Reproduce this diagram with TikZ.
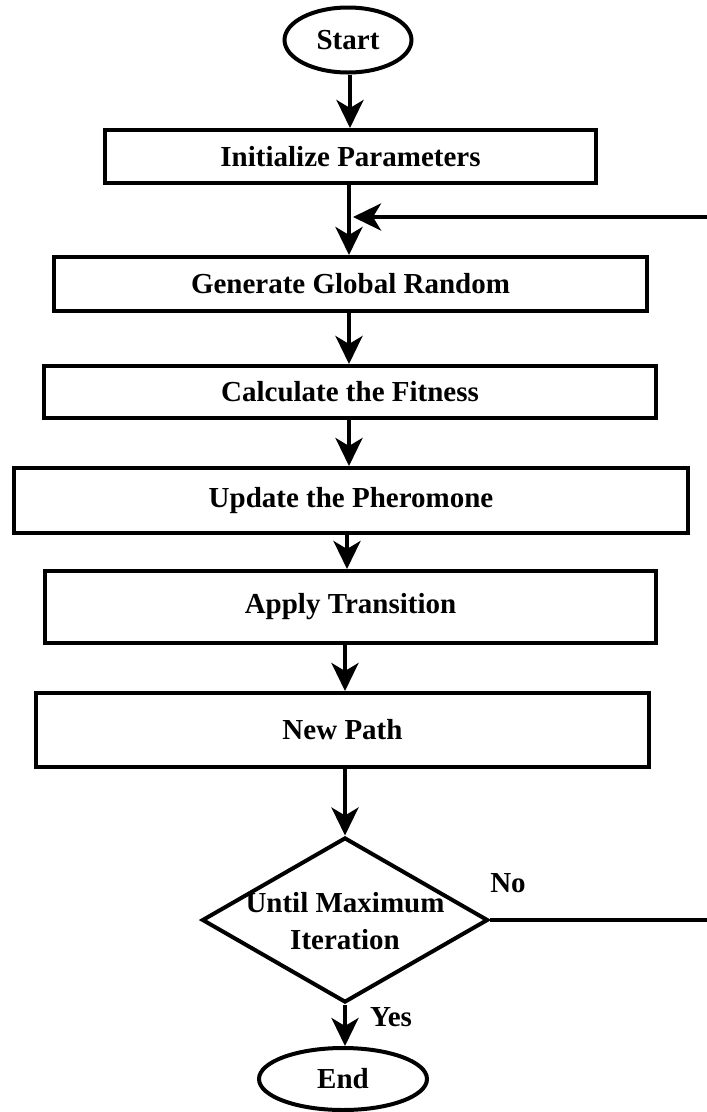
\documentclass[tikz,border=0pt]{standalone}
\usepackage{fontspec}
\setmainfont{Liberation Serif}
\usetikzlibrary{shapes.geometric,arrows.meta}
\begin{document}
\begin{tikzpicture}[x=1pt,y=-1pt,
  font=\fontsize{29}{37}\selectfont\bfseries,
  lw/.style={line width=4pt},
  procbox/.style={draw,lw,rectangle,inner sep=0pt},
  term/.style={draw,lw,ellipse,inner sep=0pt},
  dia/.style={draw,lw,diamond,inner sep=0pt},
  txt/.style={inner sep=0pt,align=center},
  flow/.style={lw,-{Stealth[length=28pt,width=27pt,inset=8pt]}}]
\useasboundingbox (0,0) rectangle (707,1112);
\node[term,minimum width=127pt,minimum height=65pt] (start) at (348,40) {Start};
\node[procbox,minimum width=491pt,minimum height=53pt] (init) at (350.5,156.5) {Initialize Parameters};
\node[procbox,minimum width=593pt,minimum height=54pt] (gen) at (350.5,284) {Generate Global Random};
\node[procbox,minimum width=612pt,minimum height=52pt] (calc) at (350,392) {Calculate the Fitness};
\node[procbox,minimum width=674pt,minimum height=65pt] (upd) at (351,500.5) {Update the Pheromone};
\node[procbox,minimum width=611pt,minimum height=72pt] (app) at (350.5,607) {Apply Transition};
\node[procbox,minimum width=613pt,minimum height=74pt] (newp) at (342.5,730) {New Path};
\node[dia,minimum width=286pt,minimum height=165pt] (dec) at (345,920) {};
\node[txt] (dect) at (345,921) {Until Maximum\\Iteration};
\node[term,minimum width=168pt,minimum height=62pt] (end) at (343,1079) {End};
\node[txt] (no) at (508,883) {No};
\node[txt] (yes) at (391,1017) {Yes};
\coordinate (loopA) at (709.5,920);
\coordinate (loopB) at (709.5,217);
\coordinate (join) at (353,217);
\draw[flow] (start.south -| 350,0) -- (init.north -| 350,0);
\draw[flow] (init.south -| 349,0) -- (gen.north -| 349,0);
\draw[flow] (gen.south -| 349,0) -- (calc.north -| 349,0);
\draw[flow] (calc.south -| 349,0) -- (upd.north -| 349,0);
\draw[flow] (upd.south -| 347,0) -- (app.north -| 347,0);
\draw[flow] (app.south -| 345,0) -- (newp.north -| 345,0);
\draw[flow] (newp.south -| dec.north) -- (dec.north);
\draw[flow] (dec.south) -- (end.north -| dec.south);
\draw[flow] (dec.east) -- (loopA) -- (loopB) -- (join);
\end{tikzpicture}
\end{document}
